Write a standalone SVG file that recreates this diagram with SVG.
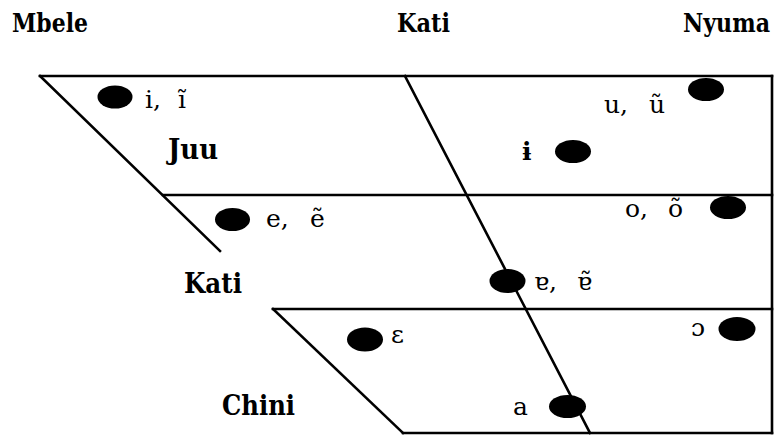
<svg xmlns="http://www.w3.org/2000/svg" width="776" height="437" viewBox="0 0 776 437">
<style>
.ln{stroke:#000;stroke-width:2.6;fill:none;stroke-linecap:square}
.dot{fill:#000}
.hd{font-family:"DejaVu Serif",serif;font-weight:bold;font-size:26px;fill:#000}
.lv{font-family:"DejaVu Serif",serif;font-weight:bold;font-size:28px;fill:#000}
.v{font-family:"DejaVu Serif",serif;font-size:25px;fill:#000}
</style>
<rect width="776" height="437" fill="#fff"/>
<g id="connectors">
<line class="ln" x1="40" y1="76" x2="772" y2="76"/>
<line class="ln" x1="772" y1="76" x2="772" y2="433"/>
<line class="ln" x1="163" y1="195" x2="772" y2="195"/>
<line class="ln" x1="273" y1="309" x2="772" y2="309"/>
<line class="ln" x1="403" y1="433" x2="772" y2="433"/>
<line class="ln" x1="40" y1="76" x2="220" y2="251"/>
<line class="ln" x1="273" y1="309" x2="403" y2="433"/>
<line class="ln" x1="405" y1="76" x2="590" y2="433"/>
</g>
<g id="heading-mbele"><text class="hd" x="12" y="32" textLength="76" lengthAdjust="spacingAndGlyphs">Mbele</text></g>
<g id="heading-kati"><text class="hd" x="397" y="32" textLength="53" lengthAdjust="spacingAndGlyphs">Kati</text></g>
<g id="heading-nyuma"><text class="hd" x="770" y="32" text-anchor="end" textLength="87" lengthAdjust="spacingAndGlyphs">Nyuma</text></g>
<g id="height-juu"><text class="lv" x="168" y="159" textLength="50" lengthAdjust="spacingAndGlyphs">Juu</text></g>
<g id="height-kati"><text class="lv" x="184" y="293" textLength="58" lengthAdjust="spacingAndGlyphs">Kati</text></g>
<g id="height-chini"><text class="lv" x="222" y="415" textLength="73" lengthAdjust="spacingAndGlyphs">Chini</text></g>
<g id="vowel-i"><ellipse class="dot" cx="115" cy="97" rx="17.5" ry="11.5"/><text class="v" y="108"><tspan x="145">i,</tspan><tspan x="178">ĩ</tspan></text></g>
<g id="vowel-e"><ellipse class="dot" cx="232.5" cy="219.5" rx="17.5" ry="11.5"/><text class="v" y="227"><tspan x="266">e,</tspan><tspan x="310">ẽ</tspan></text></g>
<g id="vowel-u"><ellipse class="dot" cx="706" cy="89.5" rx="18" ry="11.5"/><text class="v" y="113"><tspan x="604">u,</tspan><tspan x="649">ũ</tspan></text></g>
<g id="vowel-barred-i"><ellipse class="dot" cx="573" cy="151.5" rx="18" ry="11.5"/><text class="v" x="522" y="160" font-weight="bold" fill="#1a1a1a">ɨ</text></g>
<g id="vowel-o"><ellipse class="dot" cx="728" cy="207.5" rx="18" ry="11.5"/><text class="v" y="217"><tspan x="625">o,</tspan><tspan x="668">õ</tspan></text></g>
<g id="vowel-turned-a"><ellipse class="dot" cx="507.5" cy="281" rx="18" ry="12"/><text class="v" y="290"><tspan x="534">ɐ,</tspan><tspan x="577">ɐ̃</tspan></text></g>
<g id="vowel-open-e"><ellipse class="dot" cx="365" cy="339.5" rx="18" ry="12"/><text class="v" x="391" y="343">ɛ</text></g>
<g id="vowel-open-o"><ellipse class="dot" cx="737" cy="329" rx="18.5" ry="12"/><text class="v" x="691" y="336">ɔ</text></g>
<g id="vowel-a"><ellipse class="dot" cx="567.5" cy="406.5" rx="18.5" ry="11.5"/><text class="v" x="513" y="415">a</text></g>
</svg>
